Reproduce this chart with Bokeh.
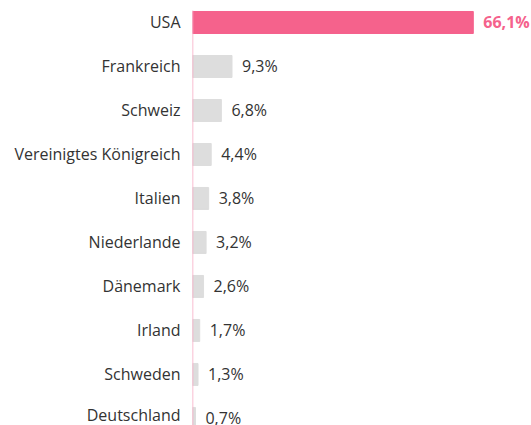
from bokeh.plotting import figure
from bokeh.models import Range1d, FixedTicker, ColumnDataSource
from bokeh.core.properties import value
from bokeh.embed import file_html
from bokeh.resources import INLINE

countries = ["USA", "Frankreich", "Schweiz", "Vereinigtes Königreich", "Italien",
             "Niederlande", "Dänemark", "Irland", "Schweden", "Deutschland"]
shares = [66.1, 9.3, 6.8, 4.4, 3.8, 3.2, 2.6, 1.7, 1.3, 0.7]
labels = ["66,1%", "9,3%", "6,8%", "4,4%", "3,8%", "3,2%", "2,6%", "1,7%", "1,3%", "0,7%"]

PINK = "#f5628c"
GRAY = "#dddddd"
TEXT = "#333333"

pos = list(range(len(countries)))
colors = [PINK] + [GRAY] * (len(countries) - 1)
src = ColumnDataSource(dict(y=pos, v=shares, c=colors, lab=labels))

p = figure(width=531, height=425, output_backend="svg", toolbar_location=None,
           x_range=Range1d(0, 79.8), y_range=Range1d(9.16, -0.5),
           x_axis_location=None, min_border_left=192, min_border_right=0,
           min_border_top=0, min_border_bottom=0)
p.outline_line_color = None
p.grid.visible = False

p.hbar(y="y", left=0, right="v", height=0.5, color="c", source=src)
p.segment(x0=[0], y0=[-0.27], x1=[0], y1=[10], line_color="#f8a8c2", line_width=1.5)

src_usa = ColumnDataSource(dict(y=pos[:1], v=shares[:1], lab=labels[:1]))
src_rest = ColumnDataSource(dict(y=pos[1:], v=shares[1:], lab=labels[1:]))
p.text(x="v", y="y", text="lab", source=src_usa, x_offset=10, text_baseline="middle",
       text_font=value("Open Sans"), text_font_size="16px", text_font_style="bold",
       text_color=PINK)
p.text(x="v", y="y", text="lab", source=src_rest, x_offset=10, text_baseline="middle",
       text_font=value("Open Sans"), text_font_size="16px", text_color=TEXT)

ax = p.yaxis[0]
ax.ticker = FixedTicker(ticks=pos)
ax.major_label_overrides = {i: c for i, c in enumerate(countries)}
ax.axis_line_color = None
ax.major_tick_line_color = None
ax.minor_tick_line_color = None
ax.major_tick_out = 0
ax.major_label_standoff = 12
ax.major_label_text_font = "Open Sans"
ax.major_label_text_font_size = "16px"
ax.major_label_text_color = TEXT

open("out.html", "w").write(file_html(p, INLINE))
